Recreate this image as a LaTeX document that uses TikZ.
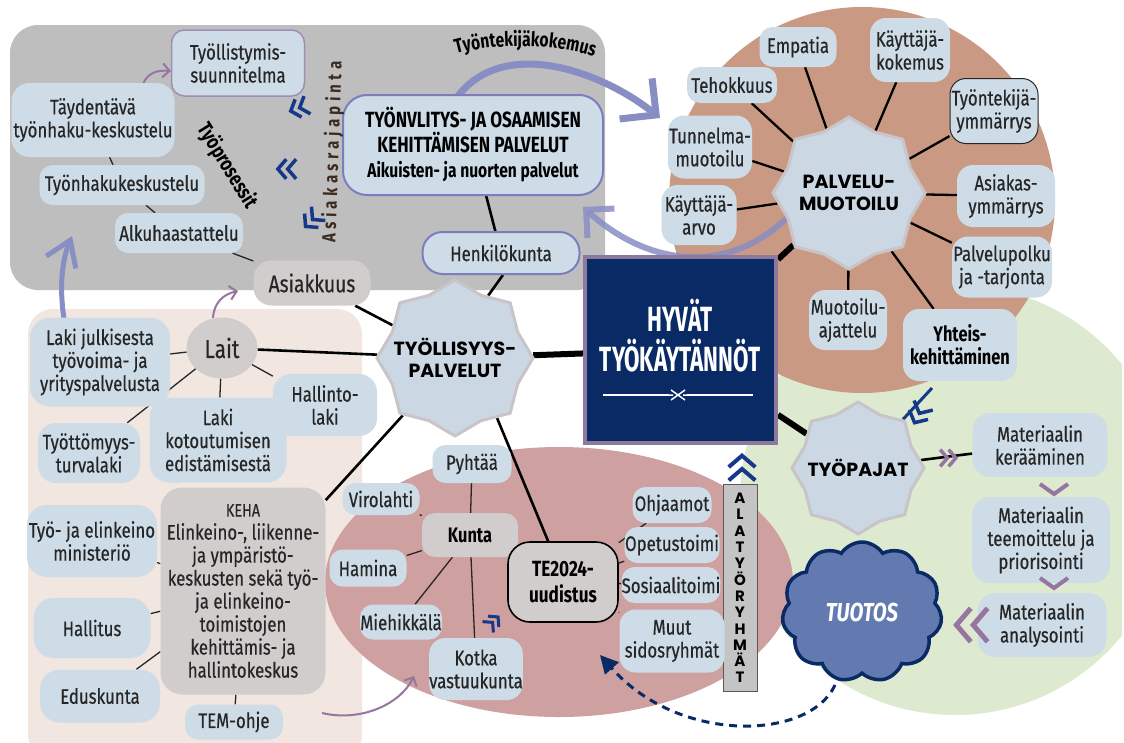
\documentclass[tikz,border=0pt]{standalone}
\usepackage{fontspec}
\setmainfont{Fira Sans}[FakeStretch=0.8, FakeBold=0.5]
\newfontfamily\condfont{Fira Sans}[FakeStretch=0.78]
\newfontfamily\titlefont{Fira Sans}[FakeStretch=0.64]
\newfontfamily\geofont{Poppins}
\usetikzlibrary{shapes.geometric,shapes.symbols,arrows.meta,decorations.text,calc}

\ExplSyntaxOn
\NewDocumentCommand\spacedletters{m}{\tl_map_inline:nn{#1}{##1\kern4.5pt}\unkern}
\ExplSyntaxOff

\definecolor{nodeblue}{RGB}{206,220,231}
\definecolor{regiongrey}{RGB}{191,190,190}
\definecolor{beige}{RGB}{241,230,224}
\definecolor{rose}{RGB}{206,160,160}
\definecolor{clay}{RGB}{201,153,131}
\definecolor{mint}{RGB}{222,234,207}
\definecolor{navy}{RGB}{10,42,102}
\definecolor{frame}{RGB}{140,122,156}
\definecolor{lav}{RGB}{136,142,196}
\definecolor{plum}{RGB}{150,118,160}
\definecolor{chevblue}{RGB}{22,56,136}
\definecolor{greynode}{RGB}{210,205,205}
\definecolor{ink}{RGB}{38,38,38}
\definecolor{starfill}{RGB}{203,216,228}
\definecolor{starline}{RGB}{200,196,200}
\definecolor{cloudfill}{RGB}{98,122,176}
\definecolor{alagrey}{RGB}{196,196,196}
\definecolor{pillline}{RGB}{125,125,190}
\definecolor{pillpurple}{RGB}{160,140,180}
\definecolor{earth}{RGB}{60,43,33}

\pgfdeclarelayer{regions}
\pgfdeclarelayer{links}
\pgfsetlayers{regions,links,main}

\begin{document}
\begin{tikzpicture}[x=1pt,y=-1pt,
  pill/.style={rectangle, rounded corners=13pt, fill=nodeblue, text=ink, align=center,
    inner sep=0pt, font=\fontsize{21}{23}\selectfont},
  greypill/.style={pill, fill=greynode},
  boldtxt/.style={font=\condfont\bfseries\fontsize{21}{23}\selectfont},
  starbox/.style={star, star points=8, star point ratio=1.15, fill=starfill,
    draw=starline, line width=3pt, inner sep=0pt},
  startext/.style={font=\geofont\bfseries\fontsize{19}{22}\selectfont, align=center, text=black},
  thinlink/.style={draw=ink, line width=1.3pt},
  boldlink/.style={draw=black, line width=2.6pt},
  heavylink/.style={draw=black, line width=6pt},
  softarrow/.style={draw=plum, line width=2pt, -{Straight Barb[length=7pt,width=14pt]}},
  dchev/.pic={\draw[pic actions, line join=miter] (-0.5,-7)--(-6.5,0)--(-0.5,7) (6.5,-7)--(0.5,0)--(6.5,7);},
  vchev/.pic={\draw[pic actions, line join=miter] (-14,-5)--(0,5)--(14,-5);},
]
\useasboundingbox (0,0) rectangle (1124,742);

% ---------- background regions ----------
\begin{pgfonlayer}{regions}
  \fill[white] (0,0) rectangle (1124,742);
  \begin{scope}
    \clip (0,0) rectangle (1122,742);
    \fill[mint] (955,500) circle[radius=215];
  \end{scope}
  \fill[clay] (862,200) circle[radius=193];
  \fill[regiongrey, rounded corners=28pt] (10,25) rectangle (605,290);
  \fill[beige, rounded corners=25pt] (28,309) rectangle (362,760);
  \fill[rose] (559,582) ellipse[x radius=234, y radius=135];
\end{pgfonlayer}

% ---------- work process area ----------
\node[pill, draw=pillpurple, line width=1.5pt, minimum width=133pt, minimum height=66pt] (plan) at (238,63) {Työllistymis-\\suunnitelma};
\node[pill, rounded corners=18pt, minimum width=163pt, minimum height=74pt] (supp) at (93,120) {Täydentävä\\työnhaku-keskustelu};
\node[pill, minimum width=165pt, minimum height=40pt] (jobtalk) at (122,185) {Työnhakukeskustelu};
\node[pill, minimum width=128pt, minimum height=40pt] (intake) at (179,233) {Alkuhaastattelu};
\node[greypill, rounded corners=18pt, minimum width=117pt, minimum height=45pt, font=\fontsize{24}{26}\selectfont] (client) at (312,283) {Asiakkuus};
\node[rotate=-58, text=black, font=\condfont\bfseries\fontsize{21}{21}\selectfont] (procs) at (227,166) {Työprosessit};

\node[pill, draw=pillline, line width=2pt, rounded corners=24pt, minimum width=260pt, minimum height=100pt,
  text=black, font=\condfont\bfseries\fontsize{22}{25}\selectfont] (emp) at (473,145)
  {TYÖNVLITYS- JA OSAAMISEN\\KEHITTÄMISEN PALVELUT\\\fontsize{20}{25}\selectfont Aikuisten- ja nuorten palvelut};
\node[rotate=88, text=earth, font=\condfont\bfseries\fontsize{19}{19}\selectfont] (iface) at (333,152) {\spacedletters{Asiakasrajapinta}};
\node[pill, draw=pillline, line width=2pt, rounded corners=20pt, minimum width=157pt, minimum height=42pt] (staff) at (501,253) {Henkilökunta};

% ---------- centre ----------
\node[starbox, minimum size=156pt] (emps) at (455,358) {};
\node[startext] (empst) at (emps) {TYÖLLISYYS-\\PALVELUT};

\node[fill=navy, draw=frame, line width=4pt, minimum width=191pt, minimum height=186pt, inner sep=0pt] (hyv) at (680.5,350) {};
\node[text=white, align=center, font=\titlefont\bfseries\fontsize{35}{40}\selectfont] (hyvt) at (680,336) {HYVÄT\\TYÖKÄYTÄNNÖT};
\draw[white, line width=2pt] (603,395) -- (669,395) (687,395) -- (753,395);
\draw[white, line width=1.5pt] (667,395) -- (673,395) (671,390) -- (685,400) (671,400) -- (685,390) (683,395) -- (689,395);

% ---------- service design ----------
\node[starbox, minimum size=152pt] (sd) at (849,193) {};
\node[startext] (sdt) at (sd) {PALVELU-\\MUOTOILU};
\node[pill, minimum width=77pt, minimum height=40pt] (empathy) at (798,47) {Empatia};
\node[pill, rounded corners=16pt, minimum width=80pt, minimum height=64pt] (ux) at (910,50) {Käyttäjä-\\kokemus};
\node[pill, minimum width=90pt, minimum height=36pt] (eff) at (732,85) {Tehokkuus};
\node[pill, rounded corners=16pt, minimum width=84pt, minimum height=63pt] (mood) at (710,147) {Tunnelma-\\muotoilu};
\node[pill, rounded corners=16pt, minimum width=75pt, minimum height=60pt] (uval) at (699,215) {Käyttäjä-\\arvo};
\node[pill, rounded corners=16pt, draw=ink, line width=1pt, minimum width=88pt, minimum height=65pt] (empu) at (994,111) {Työntekijä-\\ymmärrys};
\node[pill, rounded corners=16pt, minimum width=98pt, minimum height=62pt] (custu) at (1006,196) {Asiakas-\\ymmärrys};
\node[pill, rounded corners=16pt, minimum width=100pt, minimum height=61pt] (spath) at (1002,267) {Palvelupolku\\ja -tarjonta};
\node[pill, rounded corners=16pt, minimum width=78pt, minimum height=60pt] (dthink) at (848,320) {Muotoilu-\\ajattelu};
\node[pill, boldtxt, text=black, rounded corners=16pt, minimum width=114pt, minimum height=72pt] (codev) at (960,345) {Yhteis-\\kehittäminen};

% ---------- workshops ----------
\node[starbox, minimum size=132pt] (ws) at (858,468) {};
\node[startext] (wst) at (ws) {TYÖPAJAT};
\node[pill, rounded corners=18pt, minimum width=135pt, minimum height=64pt] (collect) at (1040,445) {Materiaalin\\kerääminen};
\node[pill, rounded corners=18pt, minimum width=138pt, minimum height=86pt] (theme) at (1041,540) {Materiaalin\\teemoittelu ja\\priorisointi};
\node[pill, rounded corners=18pt, minimum width=129pt, minimum height=64pt] (analyse) at (1042,625) {Materiaalin\\analysointi};
\node[cloud, cloud puffs=11, cloud puff arc=115, aspect=1.15, fill=cloudfill, draw=navy, line width=3.5pt,
  minimum width=160pt, minimum height=140pt, inner sep=0pt, text=white,
  font=\condfont\bfseries\itshape\fontsize{26}{26}\selectfont] (out) at (862,612) {TUOTOS};

\node[fill=alagrey, draw=black!65, line width=1pt, minimum width=34pt, minimum height=207pt, inner sep=0pt,
  align=center, font=\geofont\bfseries\fontsize{15}{16.3}\selectfont] (sub) at (740,588)
  {A\\L\\A\\T\\Y\\Ö\\R\\Y\\H\\M\\Ä\\T};

% ---------- municipalities and reform ----------
\node[pill, minimum width=79pt, minimum height=38pt] (pyh) at (472,464) {Pyhtää};
\node[pill, minimum width=77pt, minimum height=32pt] (viro) at (381,499) {Virolahti};
\node[greypill, boldtxt, text=black, minimum width=96pt, minimum height=44pt] (kunta) at (470,535) {Kunta};
\node[pill, minimum width=77pt, minimum height=37pt] (ham) at (368,568) {Hamina};
\node[pill, minimum width=82pt, minimum height=35pt] (mie) at (401,622) {Miehikkälä};
\node[pill, rounded corners=16pt, minimum width=93pt, minimum height=62pt] (kotka) at (476,669) {Kotka\\vastuukunta};
\node[greypill, draw=black, line width=1.6pt, rounded corners=22pt, minimum width=110pt, minimum height=80pt,
  text=black, font=\condfont\bfseries\fontsize{22}{26}\selectfont] (te) at (563,582) {TE2024-\\uudistus};
\node[pill, minimum width=79pt, minimum height=36pt] (ohj) at (672,505) {Ohjaamot};
\node[pill, minimum width=95pt, minimum height=36pt] (opet) at (672,545) {Opetustoimi};
\node[pill, minimum width=98pt, minimum height=36pt] (sos) at (671,585) {Sosiaalitoimi};
\node[pill, rounded corners=16pt, minimum width=105pt, minimum height=63pt] (muut) at (672,641) {Muut\\sidosryhmät};

% ---------- legislation and administration ----------
\node[greypill, ellipse, minimum width=71pt, minimum height=61pt, font=\fontsize{26}{28}\selectfont] (laws) at (222,348) {Lait};
\node[pill, rounded corners=20pt, minimum width=140pt, minimum height=89pt] (lj) at (100,362) {Laki julkisesta\\työvoima- ja\\yrityspalvelusta};
\node[pill, rounded corners=18pt, minimum width=104pt, minimum height=62pt] (hl) at (325,405) {Hallinto-\\laki};
\node[pill, rounded corners=20pt, minimum width=137pt, minimum height=85pt] (lk) at (218,440) {Laki\\kotoutumisen\\edistämisestä};
\node[pill, rounded corners=18pt, minimum width=102pt, minimum height=60pt] (tt) at (89,453) {Työttömyys-\\turvalaki};
\node[pill, rounded corners=20pt, minimum width=130pt, minimum height=72pt] (tem) at (92,541) {Työ- ja elinkeino\\ministeriö};
\node[pill, rounded corners=20pt, minimum width=117pt, minimum height=60pt] (gov) at (92,628) {Hallitus};
\node[pill, rounded corners=20pt, minimum width=120pt, minimum height=53pt] (parl) at (100,696) {Eduskunta};
\node[greypill, rounded corners=22pt, minimum width=165pt, minimum height=207pt] (keha) at (243,591)
  {\fontsize{18}{24}\selectfont KEHA\\\fontsize{21}{24}\selectfont Elinkeino-, liikenne-\\ja ympäristö-\\keskusten sekä työ-\\ja elinkeino-\\toimistojen\\kehittämis- ja\\hallintokeskus};
\node[pill, minimum width=98pt, minimum height=35pt] (temo) at (234,722) {TEM-ohje};

% ---------- free ends of the curved arrows ----------
\coordinate (expS) at (455,100);
\coordinate (expE) at (660,118);
\coordinate (retS) at (790,215);
\coordinate (retE) at (583,207);
\coordinate (lawS) at (66,330);
\coordinate (lawE) at (72,236);
\coordinate (suppS) at (143,84);
\coordinate (planE) at (171,71);
\coordinate (laitS) at (213,318);
\coordinate (clientE) at (238,291);
\coordinate (kehaS) at (322,713);
\coordinate (kotkaE) at (414,676);
\coordinate (outS) at (835,685);
\coordinate (teE) at (600,655);
\coordinate (codevS) at (932,388);

% ---------- connectors ----------
\begin{pgfonlayer}{links}
  \draw[thinlink] (supp) -- (jobtalk) (jobtalk) -- (intake) (intake) -- (client);
  \draw[thinlink] (laws) -- (lj) (laws) -- (tt) (laws) -- (lk) (laws) -- (hl);
  \draw[thinlink] (keha) -- (tem) (keha) -- (gov) (keha) -- (parl) (keha) -- (temo);
  \draw[thinlink] (kunta) -- (pyh) (kunta) -- (viro) (kunta) -- (ham) (kunta) -- (mie) (kunta) -- (kotka);
  \draw[thinlink] (te) -- (ohj) (te) -- (opet) (te) -- (sos) (te) -- (muut);

  \draw[boldlink] (emps) -- (client) (emps) -- (laws) (emps) -- (keha) (emps.-55) -- (te.110);
  \draw[boldlink] (staff) -- (emp) (staff.275) -- (emps.62);
  \foreach \n in {empathy,ux,eff,mood,uval,empu,custu,spath,dthink,codev}
    \draw[boldlink, line width=2.3pt] (sd) -- (\n);
  \draw[boldlink] (ws) -- (collect);
  \draw[heavylink] (emps) -- (hyv) (sd) -- (hyv) (ws) -- (hyv);

  \draw[lav, line width=7pt, -{Straight Barb[length=26pt,width=52pt]}] (expS) .. controls (500,35) and (600,70) .. (expE);
  \draw[lav, line width=6pt, opacity=0.85, -{Straight Barb[length=20pt,width=40pt]}] (retS) .. controls (730,275) and (650,268) .. (retE);
  \draw[lav, line width=5pt, -{Straight Barb[length=24pt,width=32pt]}] (lawS) .. controls (58,290) and (62,260) .. (lawE);
  \draw[softarrow] (suppS) .. controls (148,72) and (158,70) .. (planE);
  \draw[softarrow] (laitS) .. controls (214,302) and (224,294) .. (clientE);
  \draw[softarrow] (kehaS) .. controls (360,722) and (400,705) .. (kotkaE);
  \draw[navy, line width=3pt, dash pattern=on 8pt off 6pt, -{Triangle[length=18pt,width=18pt]}] (outS) .. controls (810,740) and (680,745) .. (teE);
  \draw[chevblue, line width=3pt] (codevS) -- (ws);
\end{pgfonlayer}

% ---------- chevron markers ----------
\pic[chevblue, line width=3.5pt, rotate=20, scale=1.35] (chA) at (299,108) {dchev};
\pic[chevblue, line width=3.5pt, scale=1.4] (chB) at (287,169) {dchev};
\pic[chevblue, line width=3.5pt, rotate=45, scale=1.4] (chC) at (312,220) {dchev};
\pic[chevblue, line width=3pt, rotate=-135, scale=1.1] (chD) at (493,622) {dchev};
\pic[chevblue, line width=4pt, rotate=-90, scale=1.9] (chE) at (742,468) {dchev};
\pic[chevblue, line width=3.5pt, rotate=63, scale=1.5] (chF) at (919,414) {dchev};
\pic[plum, line width=3.5pt, rotate=180, scale=1.2] (chG) at (948,458) {dchev};
\pic[plum, line width=5pt, scale=2.4] (chH) at (972,625) {dchev};
\pic[plum, line width=4pt] (chI) at (1054,489) {vchev};
\pic[plum, line width=4pt] (chJ) at (1054,583) {vchev};

% ---------- curved caption ----------
\path[decorate, decoration={text along path, text align=center,
  text={|\condfont\bfseries\fontsize{20}{20}\selectfont|Työntekijäkokemus}}]
  (446,57) .. controls (490,42) and (560,42) .. (604,60);
\end{tikzpicture}
\end{document}
